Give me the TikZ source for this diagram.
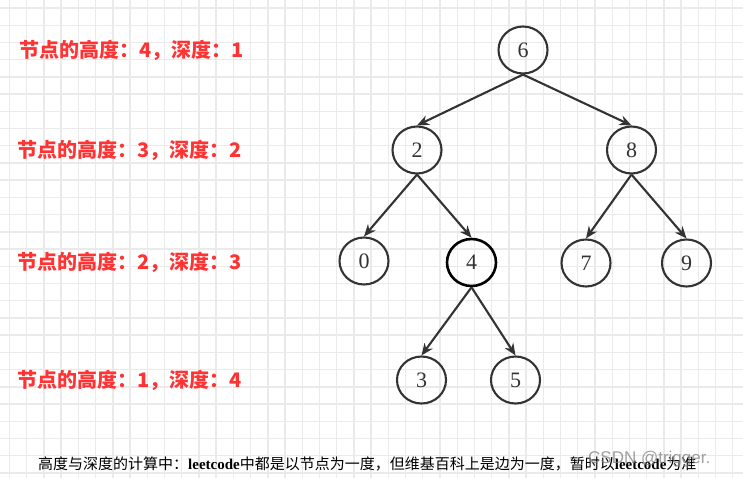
\documentclass[tikz,border=0pt]{standalone}
\usepackage{fontspec}
\setmainfont{Liberation Serif}
\newfontfamily\cjk{Noto Sans CJK SC}
\newfontfamily\wmfont{Liberation Sans}
\usetikzlibrary{arrows.meta,shapes.geometric}
\definecolor{gridc}{RGB}{234,234,234}
\definecolor{edgec}{RGB}{51,51,51}
\definecolor{labc}{RGB}{255,51,51}
\tikzset{
  tnode/.style={draw=edgec, ellipse, minimum width=49, minimum height=47, inner sep=0pt,
    line width=2.1pt, text=edgec, font=\fontsize{22}{22}\selectfont},
  hnode/.style={tnode, draw=black, line width=2.6pt},
  arr/.style={draw=edgec, line width=2.1pt, -{Stealth[length=12pt,width=10pt]}},
  lbl/.style={anchor=west, inner sep=0pt, text=labc, font=\cjk\bfseries\fontsize{20}{20}\selectfont},
  note/.style={anchor=west, inner sep=0pt, text=black, font=\cjk\fontsize{15}{15}\selectfont},
  wmark/.style={anchor=west, inner sep=0pt, text=gray, text opacity=0.75, font=\wmfont\fontsize{17}{17}\selectfont}
}
\begin{document}
\begin{tikzpicture}[x=1pt,y=-1pt]
\useasboundingbox (0,0) rectangle (743,478);
\fill[white] (0,0) rectangle (743,478);
\foreach \i in {0,...,43} \draw[gridc, line width=1.4pt] ({9.5+\i*17.22},0) -- ++(0,478);
\foreach \j in {0,...,27} \draw[gridc, line width=1.4pt] (0,{8+\j*17.22}) -- ++(743,0);
% labels
\node[lbl] (l1) at (19,50) {节点的高度：4，深度：1};
\node[lbl] (l2) at (17,150) {节点的高度：3，深度：2};
\node[lbl] (l3) at (17,262) {节点的高度：2，深度：3};
\node[lbl] (l4) at (17,380) {节点的高度：1，深度：4};
% tree nodes
\node[tnode] (n6) at (523,50) {6};
\node[tnode] (n2) at (417,150) {2};
\node[tnode] (n8) at (631.5,150) {8};
\node[tnode] (n0) at (364,261) {0};
\node[hnode] (n4) at (471.5,262.5) {4};
\node[tnode] (n7) at (586,263) {7};
\node[tnode] (n9) at (686.5,263) {9};
\node[tnode] (n3) at (421.5,380) {3};
\node[tnode] (n5) at (515.5,380) {5};
% edges
\draw[arr] (n6.south) -- (n2.north);
\draw[arr] (n6.south) -- (n8.north);
\draw[arr] (n2.south) -- (n0.north);
\draw[arr] (n2.south) -- (n4.north);
\draw[arr] (n8.south) -- (n7.north);
\draw[arr] (n8.south) -- (n9.north);
\draw[arr] (n4.south) -- (n3.north);
\draw[arr] (n4.south) -- (n5.north);
% bottom note
\node[note] (nt) at (38,464) {高度与深度的计算中：{\rmfamily\bfseries leetcode}中都是以节点为一度，但维基百科上是边为一度，暂时以{\rmfamily\bfseries leetcode}为准};
\node[wmark] (wm) at (588,459) {CSDN @trigger.};
\end{tikzpicture}
\end{document}
